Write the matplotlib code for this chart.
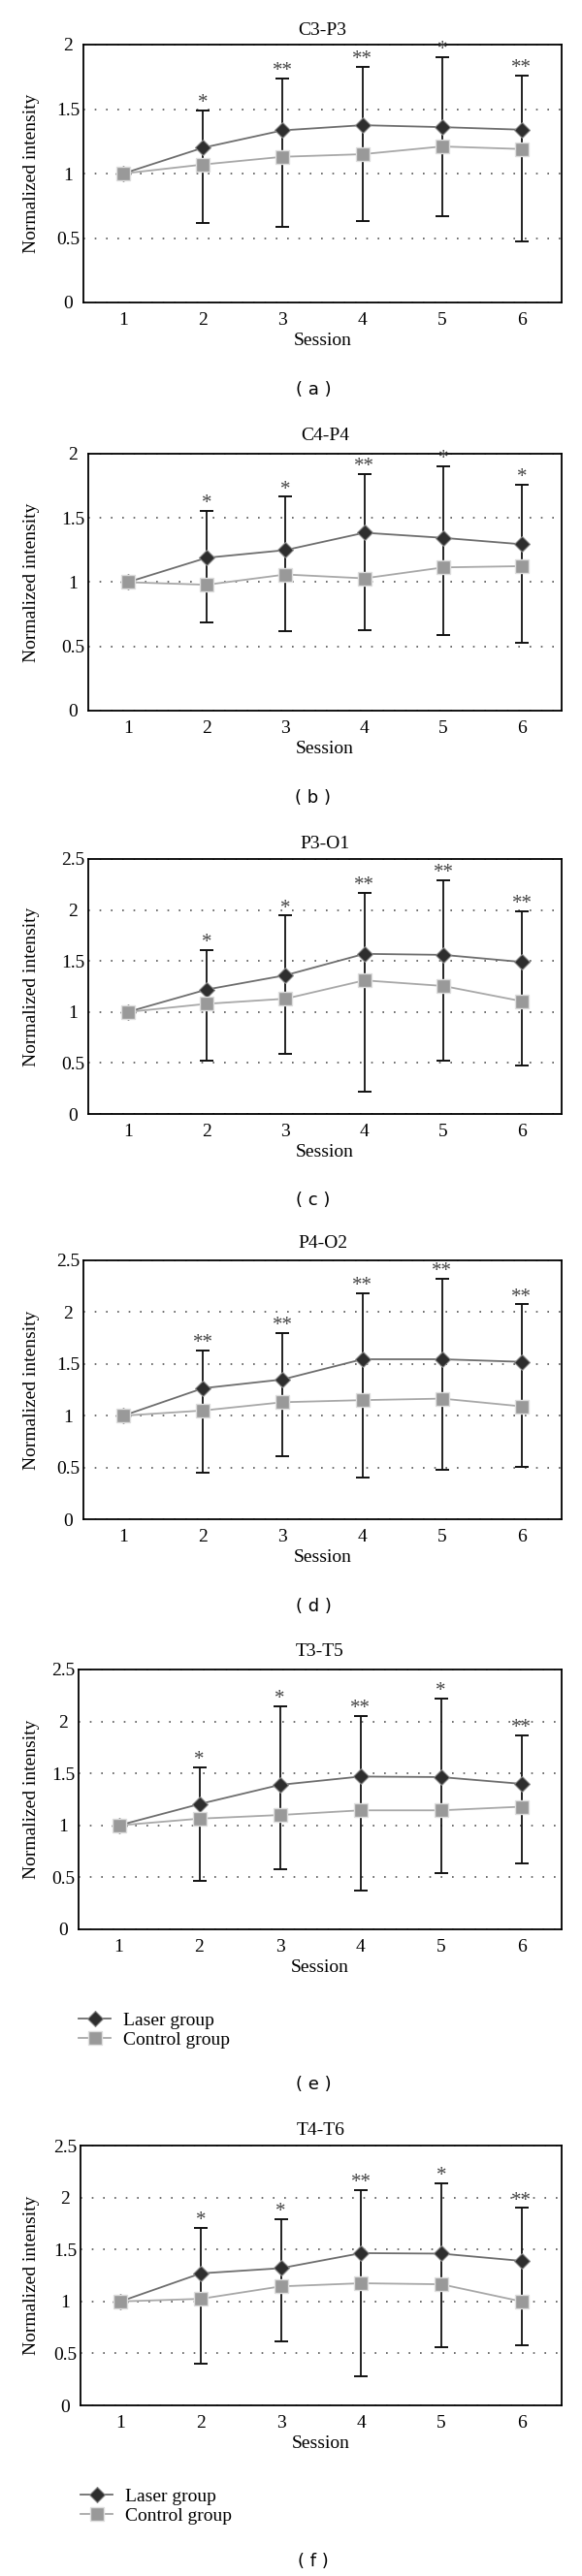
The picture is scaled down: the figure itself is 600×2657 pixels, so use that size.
import matplotlib
matplotlib.use('Agg')
import matplotlib.pyplot as plt
import numpy as np

# data
sessions = [1, 2, 3, 4, 5, 6]
titles = ['C3-P3', 'C4-P4', 'P3-O1', 'P4-O2', 'T3-T5', 'T4-T6']
panel_tags = ['( a )', '( b )', '( c )', '( d )', '( e )', '( f )']
y_max = [2, 2, 2.5, 2.5, 2.5, 2.5]

laser_mean = [
    [1.0, 1.20, 1.335, 1.375, 1.36, 1.34],
    [1.0, 1.19, 1.25, 1.385, 1.345, 1.295],
    [1.0, 1.22, 1.36, 1.57, 1.56, 1.49],
    [1.0, 1.265, 1.35, 1.545, 1.545, 1.52],
    [1.0, 1.205, 1.39, 1.47, 1.465, 1.40],
    [1.0, 1.27, 1.32, 1.465, 1.46, 1.39],
]
laser_sd = [
    [0, 0.29, 0.405, 0.455, 0.545, 0.42],
    [0, 0.365, 0.415, 0.455, 0.555, 0.465],
    [0, 0.385, 0.585, 0.60, 0.735, 0.50],
    [0, 0.365, 0.45, 0.635, 0.775, 0.555],
    [0, 0.355, 0.76, 0.585, 0.755, 0.47],
    [0, 0.435, 0.475, 0.61, 0.68, 0.51],
]
control_mean = [
    [1.0, 1.07, 1.13, 1.15, 1.21, 1.19],
    [1.0, 0.98, 1.06, 1.03, 1.115, 1.125],
    [1.0, 1.08, 1.13, 1.31, 1.255, 1.105],
    [1.0, 1.05, 1.13, 1.15, 1.165, 1.09],
    [1.0, 1.065, 1.10, 1.145, 1.145, 1.18],
    [1.0, 1.025, 1.145, 1.175, 1.165, 1.0],
]
control_sd = [
    [0, 0.45, 0.545, 0.52, 0.54, 0.72],
    [0, 0.29, 0.44, 0.40, 0.53, 0.595],
    [0, 0.555, 0.54, 1.09, 0.73, 0.63],
    [0, 0.60, 0.52, 0.75, 0.685, 0.58],
    [0, 0.60, 0.52, 0.775, 0.60, 0.55],
    [0, 0.62, 0.53, 0.895, 0.605, 0.42],
]
stars = [
    ['', '*', '**', '**', '*', '**'],
    ['', '*', '*', '**', '*', '*'],
    ['', '*', '*', '**', '**', '**'],
    ['', '**', '**', '**', '**', '**'],
    ['', '*', '*', '**', '*', '**'],
    ['', '*', '*', '**', '*', '**'],
]
show_legend = [False, False, False, False, True, True]

# layout in pixels (left, right, top, bottom), title y, tag y, legend top
W, H = 600, 2657
boxes = [(86, 579, 46, 312), (91, 579, 468, 733), (91, 579, 886, 1149),
         (86, 579, 1300, 1567), (81, 579, 1722, 1990), (83, 579, 2213, 2481)]
title_y = [32, 450, 870, 1283, 1703, 2197]
tag_y = [402, 823, 1238, 1657, 2150, 2642]
legend_top = [None, None, None, None, 2075, 2566]

plt.rcParams['font.family'] = ['Liberation Serif', 'DejaVu Serif']

fig = plt.figure(figsize=(W / 100, H / 100), dpi=100)
fig.set_facecolor('white')

for i in range(6):
    l, r, t, b = boxes[i]
    ax = fig.add_axes([l / W, 1 - b / H, (r - l) / W, (b - t) / H])

    lm = np.array(laser_mean[i])
    ls = np.array(laser_sd[i])
    cm = np.array(control_mean[i])
    cs = np.array(control_sd[i])
    zeros = np.zeros(len(sessions))

    # error bars: laser upward, control downward, joined in between
    ax.errorbar(sessions, lm, yerr=[zeros, ls], fmt='none', ecolor='#111111',
                elinewidth=1.3, capsize=5, capthick=1.4, zorder=2)
    ax.errorbar(sessions, cm, yerr=[cs, zeros], fmt='none', ecolor='#111111',
                elinewidth=1.3, capsize=5, capthick=1.4, zorder=2)
    ax.vlines(sessions, cm, lm, colors='#111111', lw=1.3, zorder=2)

    ax.plot(sessions, lm, color='#6e6e6e', lw=1.3, marker='D', ms=7.8,
            mfc='#2e2e2e', mec='#8a8a8a', mew=0.8, zorder=4, label='Laser group')
    ax.plot(sessions, cm, color='#a8a8a8', lw=1.3, marker='s', ms=9.5,
            mfc='#999999', mec='#dddddd', mew=1.0, zorder=5, label='Control group')

    for x, top, s in zip(sessions, lm + ls, stars[i]):
        if s:
            ax.annotate(s, (x, top), xytext=(0, 2), textcoords='offset points',
                        ha='center', va='baseline', fontsize=15, color='#444444')

    ax.set_xlim(0.5, 6.5)
    ax.set_ylim(0, y_max[i])
    yt = np.arange(0, y_max[i] + 0.01, 0.5)
    ax.set_yticks(yt)
    ax.set_yticklabels(['%g' % v for v in yt])
    ax.set_xticks(sessions)
    ax.set_xticklabels([str(s) for s in sessions])
    for lbl in ax.get_yticklabels():
        lbl.set_horizontalalignment('center')
    ax.tick_params(axis='both', length=0, labelsize=14)
    ax.tick_params(axis='y', pad=11.5)
    ax.tick_params(axis='x', pad=7)

    ax.yaxis.grid(True, linestyle=(0, (1, 6)), color='#555555', lw=1.2)
    ax.set_axisbelow(True)
    for sp in ax.spines.values():
        sp.set_linewidth(1.3)
        sp.set_color('black')

    ax.set_xlabel('Session', fontsize=14, labelpad=3)
    ax.set_ylabel('Normalized intensity', fontsize=14)
    ax.yaxis.set_label_coords((41 - l) / (r - l), 0.5)

    fig.text((l + r) / 2 / W, 1 - title_y[i] / H, titles[i], fontsize=14,
             ha='center', va='center')
    fig.text(323 / W, 1 - tag_y[i] / H, panel_tags[i], family='DejaVu Sans',
             fontsize=13, ha='center', va='center')

    if show_legend[i]:
        ax.legend(loc='upper left', bbox_to_anchor=(l / W, 1 - legend_top[i] / H),
                  bbox_transform=fig.transFigure, frameon=False, fontsize=14,
                  handlelength=1.7, handletextpad=0.65, labelspacing=0.15,
                  borderpad=0, borderaxespad=0)

fig.savefig('out.png', dpi=100, facecolor='white')
